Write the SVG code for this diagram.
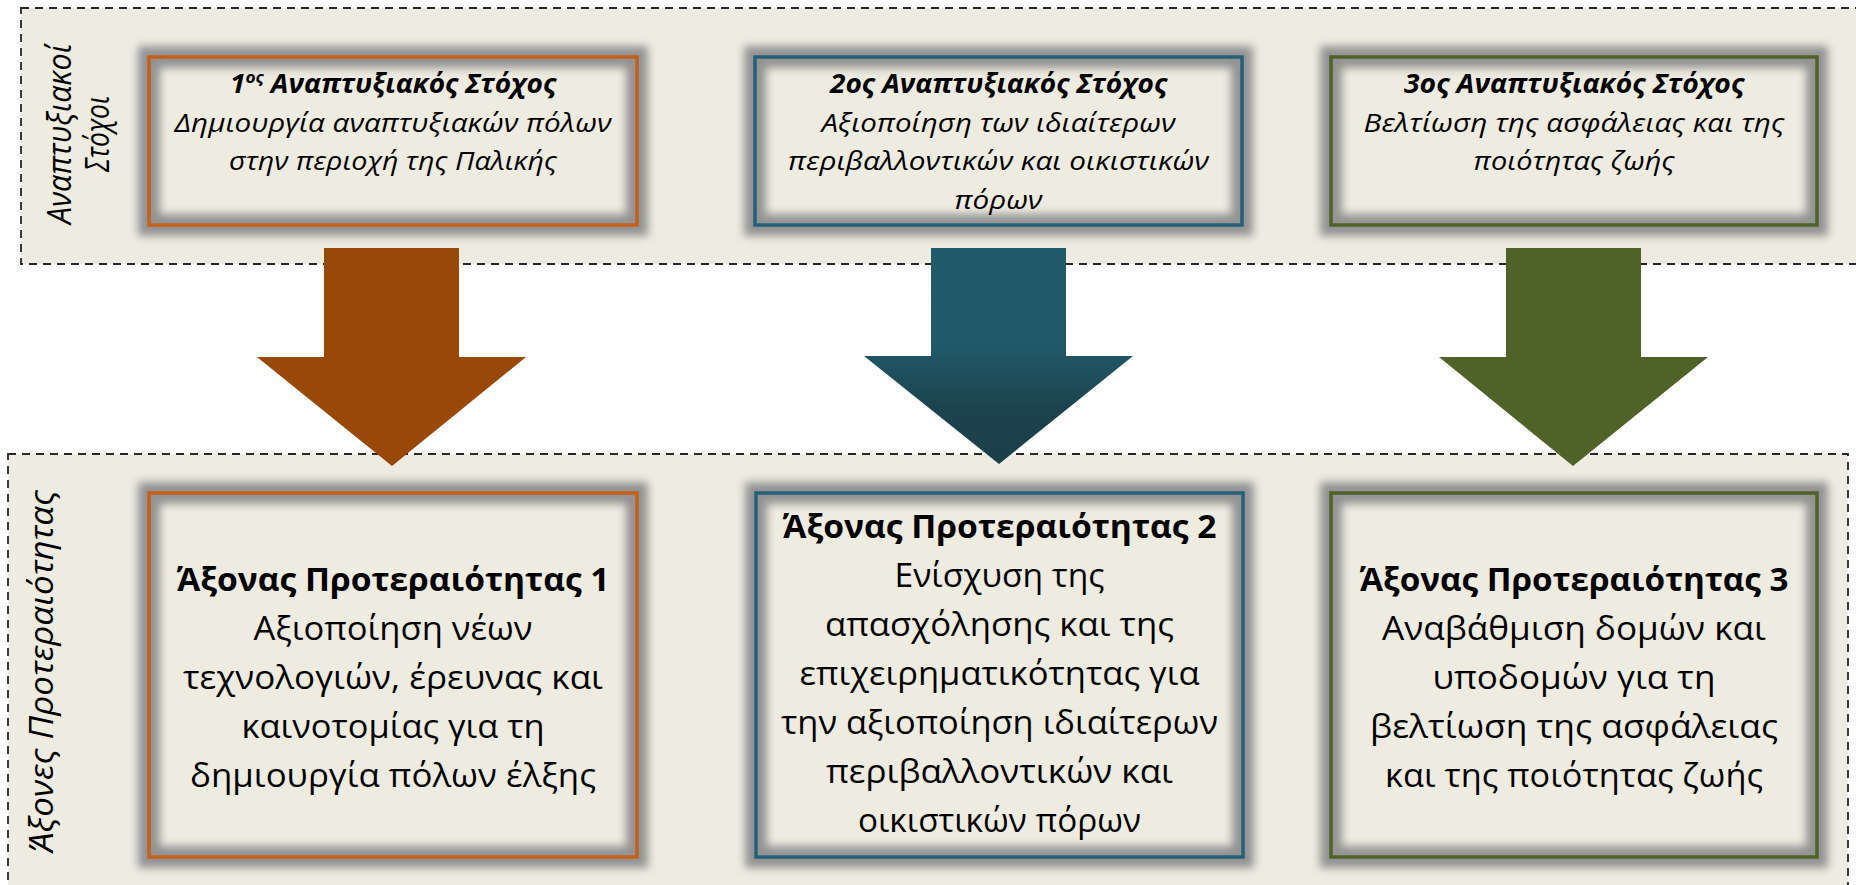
<svg xmlns="http://www.w3.org/2000/svg" width="1856" height="885" viewBox="0 0 1856 885">
<defs>
<style>
.band{fill:#EEECE1;stroke:#262626;stroke-width:1.8;stroke-dasharray:8 6}
.fill{fill:#EEECE1}
.glow{fill:none;stroke:#939393;stroke-width:22;filter:url(#blur)}
.bo{fill:none;stroke:#C4601A;stroke-width:3.5}
.bt{fill:none;stroke:#25607A;stroke-width:3.5}
.bg{fill:none;stroke:#4F6228;stroke-width:3.5}
.t{font-family:"Open Sans","Noto Sans","DejaVu Sans",sans-serif;fill:#000;text-anchor:middle}
.s{font-size:26px;font-style:italic}
.l{font-size:33px}
.b{font-weight:bold}
.lab{font-size:32px;font-style:italic}
</style>
<filter id="blur" x="-20%" y="-40%" width="140%" height="180%"><feGaussianBlur stdDeviation="4.5"/></filter>
<linearGradient id="tealg" x1="0" y1="248" x2="0" y2="466" gradientUnits="userSpaceOnUse">
<stop offset="0" stop-color="#225A69"/>
<stop offset="0.45" stop-color="#215968"/>
<stop offset="0.75" stop-color="#1B424D"/>
<stop offset="1" stop-color="#1A3F4A"/>
</linearGradient>
</defs>

<g id="bands">
<rect class="band" x="21" y="8" width="1840" height="256"/>
<rect class="band" x="8" y="454" width="1840" height="445"/>
<text class="t lab" transform="translate(71,134) rotate(-90)" textLength="180" lengthAdjust="spacingAndGlyphs">Αναπτυξιακοί</text>
<text class="t lab" transform="translate(109,134) rotate(-90)" textLength="76" lengthAdjust="spacingAndGlyphs">Στόχοι</text>
<text class="t lab" transform="translate(53,671) rotate(-90)" textLength="362" lengthAdjust="spacingAndGlyphs">Άξονες Προτεραιότητας</text>
</g>

<g id="goal1">
<rect class="fill" x="149" y="57" width="488" height="168"/>
<rect class="glow" x="149" y="57" width="488" height="168"/>
<rect class="bo" x="149" y="57" width="488" height="168"/>
<text class="t s b" x="393" y="93" textLength="326" lengthAdjust="spacingAndGlyphs">1<tspan dy="-10" font-size="16">ος</tspan><tspan dy="10"> Αναπτυξιακός Στόχος</tspan></text>
<text class="t s" x="393" y="131.5" textLength="437" lengthAdjust="spacingAndGlyphs">Δημιουργία αναπτυξιακών πόλων</text>
<text class="t s" x="393" y="170" textLength="328" lengthAdjust="spacingAndGlyphs">στην περιοχή της Παλικής</text>
</g>

<g id="goal2">
<rect class="fill" x="755" y="57" width="487" height="168"/>
<rect class="glow" x="755" y="57" width="487" height="168"/>
<rect class="bt" x="755" y="57" width="487" height="168"/>
<text class="t s b" x="998.5" y="93" textLength="337" lengthAdjust="spacingAndGlyphs">2ος Αναπτυξιακός Στόχος</text>
<text class="t s" x="998.5" y="131.5" textLength="354" lengthAdjust="spacingAndGlyphs">Αξιοποίηση των ιδιαίτερων</text>
<text class="t s" x="998.5" y="170" textLength="421" lengthAdjust="spacingAndGlyphs">περιβαλλοντικών και οικιστικών</text>
<text class="t s" x="998.5" y="208.5" textLength="88" lengthAdjust="spacingAndGlyphs">πόρων</text>
</g>

<g id="goal3">
<rect class="fill" x="1331" y="57" width="486" height="168"/>
<rect class="glow" x="1331" y="57" width="486" height="168"/>
<rect class="bg" x="1331" y="57" width="486" height="168"/>
<text class="t s b" x="1574" y="93" textLength="340" lengthAdjust="spacingAndGlyphs">3ος Αναπτυξιακός Στόχος</text>
<text class="t s" x="1574" y="131.5" textLength="421" lengthAdjust="spacingAndGlyphs">Βελτίωση της ασφάλειας και της</text>
<text class="t s" x="1574" y="170" textLength="201" lengthAdjust="spacingAndGlyphs">ποιότητας ζωής</text>
</g>

<g id="axis1">
<rect class="fill" x="149" y="493" width="488" height="364"/>
<rect class="glow" x="149" y="493" width="488" height="364"/>
<rect class="bo" x="149" y="493" width="488" height="364"/>
<text class="t l b" x="393" y="591" textLength="433" lengthAdjust="spacingAndGlyphs">Άξονας Προτεραιότητας 1</text>
<text class="t l" x="393" y="640" textLength="279" lengthAdjust="spacingAndGlyphs">Αξιοποίηση νέων</text>
<text class="t l" x="393" y="689" textLength="420" lengthAdjust="spacingAndGlyphs">τεχνολογιών, έρευνας και</text>
<text class="t l" x="393" y="738" textLength="303" lengthAdjust="spacingAndGlyphs">καινοτομίας για τη</text>
<text class="t l" x="393" y="787" textLength="406" lengthAdjust="spacingAndGlyphs">δημιουργία πόλων έλξης</text>
</g>

<g id="axis2">
<rect class="fill" x="756" y="493" width="487" height="364"/>
<rect class="glow" x="756" y="493" width="487" height="364"/>
<rect class="bt" x="756" y="493" width="487" height="364"/>
<text class="t l b" x="999.5" y="538" textLength="434" lengthAdjust="spacingAndGlyphs">Άξονας Προτεραιότητας 2</text>
<text class="t l" x="999.5" y="587" textLength="210" lengthAdjust="spacingAndGlyphs">Ενίσχυση της</text>
<text class="t l" x="999.5" y="636" textLength="349" lengthAdjust="spacingAndGlyphs">απασχόλησης και της</text>
<text class="t l" x="999.5" y="685" textLength="400" lengthAdjust="spacingAndGlyphs">επιχειρηματικότητας για</text>
<text class="t l" x="999.5" y="734" textLength="437" lengthAdjust="spacingAndGlyphs">την αξιοποίηση ιδιαίτερων</text>
<text class="t l" x="999.5" y="783" textLength="347" lengthAdjust="spacingAndGlyphs">περιβαλλοντικών και</text>
<text class="t l" x="999.5" y="832" textLength="283" lengthAdjust="spacingAndGlyphs">οικιστικών πόρων</text>
</g>

<g id="axis3">
<rect class="fill" x="1331" y="493" width="486" height="364"/>
<rect class="glow" x="1331" y="493" width="486" height="364"/>
<rect class="bg" x="1331" y="493" width="486" height="364"/>
<text class="t l b" x="1574" y="591" textLength="429" lengthAdjust="spacingAndGlyphs">Άξονας Προτεραιότητας 3</text>
<text class="t l" x="1574" y="640" textLength="384" lengthAdjust="spacingAndGlyphs">Αναβάθμιση δομών και</text>
<text class="t l" x="1574" y="689" textLength="283" lengthAdjust="spacingAndGlyphs">υποδομών για τη</text>
<text class="t l" x="1574" y="738" textLength="408" lengthAdjust="spacingAndGlyphs">βελτίωση της ασφάλειας</text>
<text class="t l" x="1574" y="787" textLength="378" lengthAdjust="spacingAndGlyphs">και της ποιότητας ζωής</text>
</g>

<g id="connectors">
<polygon fill="#984807" points="324,248 459,248 459,357 526,357 392,466 257,357 324,357"/>
<polygon fill="url(#tealg)" points="931,248 1066,248 1066,356 1133,356 999,464 864,356 931,356"/>
<polygon fill="#4F6228" points="1506,248 1641,248 1641,357 1708,357 1573,466 1439,357 1506,357"/>
</g>
</svg>
